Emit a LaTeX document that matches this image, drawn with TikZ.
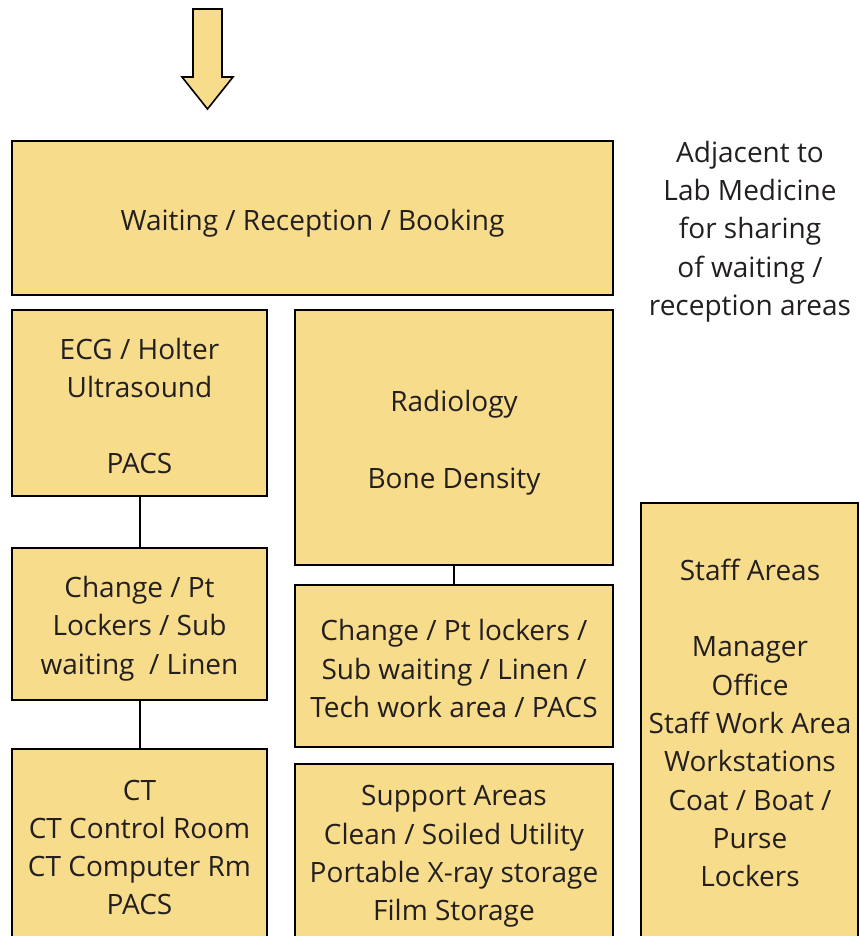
\documentclass[tikz,border=0pt]{standalone}
\usepackage{fontspec}
\setmainfont{Open Sans}
\definecolor{boxfill}{HTML}{F7DC8B}
\definecolor{txt}{HTML}{231F20}
\tikzset{
  box/.style={draw=black, line width=2pt, fill=boxfill, inner sep=0pt, outer sep=0pt},
  lbl/.style={text=txt, align=center, inner sep=0pt, font=\fontsize{28}{38.3}\selectfont},
  link/.style={draw=black, line width=2pt},
  bigarrow/.style={draw=black, line width=1.6pt, fill=boxfill, line join=miter}
}
\begin{document}
\begin{tikzpicture}[x=1pt,y=-1pt]
\useasboundingbox (0,0) rectangle (859,936);
\clip (0,0) rectangle (859,936);
% entry arrow
\draw[bigarrow] (193,9) -- (222,9) -- (222,77) -- (233,77) -- (207.5,109) -- (182,77) -- (193,77) -- cycle;
% boxes
\node[box, minimum width=601pt, minimum height=154pt] (wait) at (312.5,218) {};
\node[box, minimum width=255pt, minimum height=186pt] (ecg) at (139.5,403) {};
\node[box, minimum width=318pt, minimum height=255pt] (rad) at (454,437.5) {};
\node[box, minimum width=255pt, minimum height=152pt] (chl) at (139.5,624) {};
\node[box, minimum width=318pt, minimum height=162pt] (chr) at (454,666) {};
\node[box, minimum width=255pt, minimum height=200pt] (ct) at (139.5,849) {};
\node[box, minimum width=318pt, minimum height=185pt] (sup) at (454,856.5) {};
\node[box, minimum width=217pt, minimum height=446pt] (staff) at (749.5,726) {};
% texts
\node[lbl] (waittxt) at (312.5,223) {Waiting / Reception / Booking};
\node[lbl] (ecgtxt) at (139.5,406) {ECG / Holter\\Ultrasound\\~\\PACS};
\node[lbl] (radtxt) at (454,443) {Radiology\\~\\Bone Density};
\node[lbl] (chltxt) at (139.5,628.5) {Change / Pt\\Lockers / Sub\\waiting~~/ Linen};
\node[lbl] (chrtxt) at (454,668.5) {Change / Pt lockers /\\Sub waiting / Linen /\\Tech work area / PACS};
\node[lbl] (cttxt) at (139.5,847.5) {CT\\CT Control Room\\CT Computer Rm\\PACS};
\node[lbl] (suptxt) at (454,856.5) {Support Areas\\Clean / Soiled Utility\\Portable X-ray storage\\Film Storage};
\node[lbl] (stafftxt) at (750,723) {Staff Areas\\~\\Manager\\Office\\Staff Work Area\\Workstations\\Coat / Boat /\\Purse\\Lockers};
\node[lbl] (adj) at (750,231.5) {Adjacent to\\Lab Medicine\\for sharing\\of waiting /\\reception areas};
% connectors
\draw[link] (ecg.south) -- (chl.north);
\draw[link] (chl.south) -- (ct.north);
\draw[link] (rad.south) -- (chr.north);
\end{tikzpicture}
\end{document}
